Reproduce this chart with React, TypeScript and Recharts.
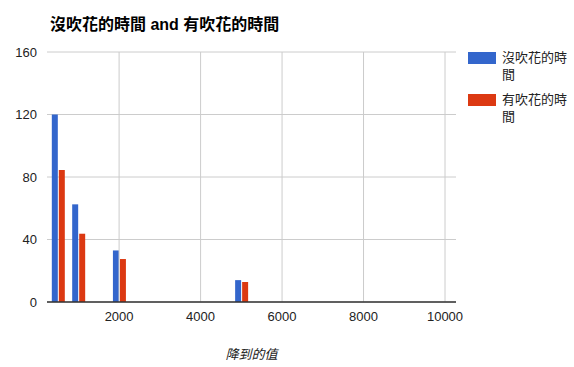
import { BarChart, Bar, XAxis, YAxis, CartesianGrid, ReferenceLine } from "recharts";

const THRESHOLDS = [500, 1000, 2000, 5000];
const NO_BLOW = [120, 62.5, 33, 14];
const BLOW = [84.5, 43.7, 27.5, 12.8];
const X_TICKS = [2000, 4000, 6000, 8000, 10000];
const Y_TICKS = [0, 40, 80, 120, 160];

const SERIES = [
  { key: "noBlow", name: "沒吹花的時間", color: "#3366cc" },
  { key: "blow", name: "有吹花的時間", color: "#dc3912" },
];

const FONT = '"Liberation Sans", Arial, "Noto Sans CJK TC", sans-serif';

const data = THRESHOLDS.map((x, i) => ({
  x,
  noBlow: NO_BLOW[i],
  blow: BLOW[i],
}));

function LegendBox() {
  return (
    <div
      style={{
        position: "absolute",
        left: 468,
        top: 49,
        fontFamily: FONT,
        fontSize: 13,
        color: "#222",
      }}
    >
      {SERIES.map((s) => (
        <div key={s.key} style={{ display: "flex", alignItems: "flex-start", marginBottom: 8 }}>
          <span
            style={{
              display: "inline-block",
              width: 28,
              height: 12,
              background: s.color,
              marginTop: 3,
              marginRight: 6,
              flex: "none",
            }}
          />
          <span style={{ width: 66, lineHeight: "17px", wordBreak: "break-all" }}>{s.name}</span>
        </div>
      ))}
    </div>
  );
}

export default function App() {
  return (
    <div style={{ position: "absolute", left: 0, top: 0, width: 574, height: 367, background: "#fff" }}>
      <div
        style={{
          position: "absolute",
          left: 50,
          top: 11,
          fontFamily: FONT,
          fontSize: 16,
          fontWeight: "bold",
          color: "#000",
          whiteSpace: "nowrap",
        }}
      >
        沒吹花的時間 and 有吹花的時間
      </div>
      <BarChart
        width={574}
        height={367}
        data={data}
        margin={{ top: 52, right: 118, left: 0, bottom: 0 }}
        barSize={6}
        barGap={1}
        style={{ fontFamily: FONT }}
      >
        <CartesianGrid stroke="#cccccc" strokeWidth={1} vertical={false} />
        {/* vertical grid only at tick values, none at the plot edges */}
        {X_TICKS.map((t) => (
          <ReferenceLine key={t} x={t} stroke="#cccccc" strokeWidth={1} />
        ))}
        <XAxis
          dataKey="x"
          type="number"
          domain={[230, 10270]}
          ticks={X_TICKS}
          allowDataOverflow
          height={65}
          tickSize={0}
          tickMargin={10}
          axisLine={{ stroke: "#333333", strokeWidth: 1.5 }}
          tick={{ fill: "#222", fontSize: 13 }}
          label={{
            value: "降到的值",
            position: "insideBottom",
            offset: 8,
            fill: "#222",
            fontSize: 13,
            fontStyle: "italic",
          }}
        />
        <YAxis
          width={47}
          domain={[0, 160]}
          ticks={Y_TICKS}
          tickSize={0}
          tickMargin={10}
          axisLine={false}
          tick={{ fill: "#222", fontSize: 13 }}
        />
        {SERIES.map((s) => (
          <Bar key={s.key} dataKey={s.key} name={s.name} fill={s.color} isAnimationActive={false} />
        ))}
      </BarChart>
      <LegendBox />
    </div>
  );
}
